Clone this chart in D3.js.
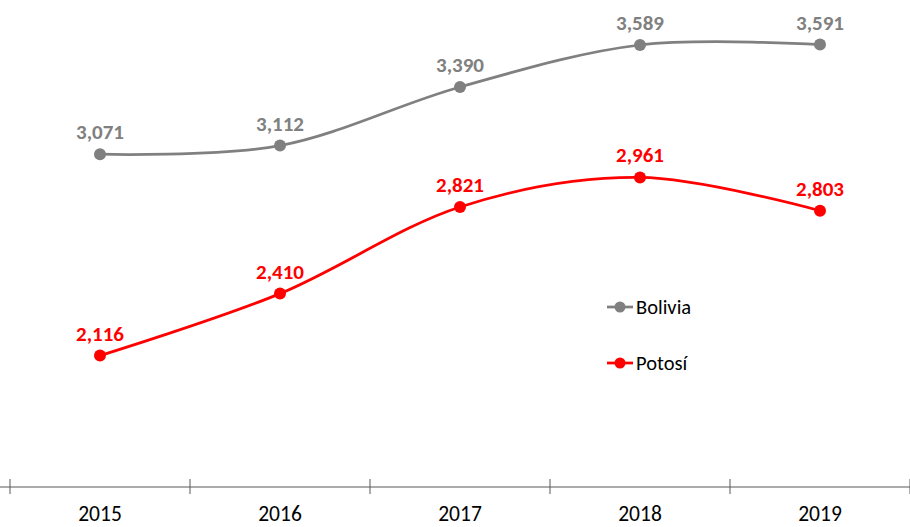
<!DOCTYPE html>
<html><head><meta charset="utf-8">
<script src="https://cdn.jsdelivr.net/npm/d3@7"></script>
<style>
html,body{margin:0;padding:0;background:#fff;}
svg{display:block;}
</style></head>
<body>
<svg id="chart" width="910" height="527"></svg>
<script>
const years = ["2015","2016","2017","2018","2019"];
const bolivia = [3071, 3112, 3390, 3589, 3591];
const potosi = [2116, 2410, 2821, 2961, 2803];
const seriesNames = ["Bolivia","Potosí"];
const seriesColors = ["#808080","#FF0000"];

const FONT = "Carlito, Calibri, Lato, sans-serif";
const svg = d3.select("#chart");
const x = d3.scaleBand().domain(years).range([10, 910]);
const y = d3.scaleLinear().domain([1500, 3800]).range([485.5, 0.5]);
const axisY = 487;

// axis
const g = svg.append("g");
g.append("line").attr("x1", 0).attr("x2", 910).attr("y1", axisY).attr("y2", axisY)
  .attr("stroke", "#595959").attr("stroke-width", 1);
const tickPos = years.map(d => x(d)).concat([x(years[years.length-1]) + x.bandwidth()]);
g.selectAll("line.tick").data(tickPos).enter().append("line")
  .attr("class","tick")
  .attr("x1", d => d).attr("x2", d => d)
  .attr("y1", axisY - 8).attr("y2", axisY + 7)
  .attr("stroke", "#595959").attr("stroke-width", 1);
g.selectAll("text.yl").data(years).enter().append("text")
  .attr("class","yl")
  .attr("x", d => x(d) + x.bandwidth()/2)
  .attr("y", 521)
  .attr("text-anchor","middle")
  .attr("font-family", FONT).attr("font-size", 21.5).attr("fill", "#000")
  .text(d => d);

const line = d3.line()
  .x((d,i) => x(years[i]) + x.bandwidth()/2)
  .y(d => y(d))
  .curve(d3.curveCardinal.tension(0));

const fmt = d3.format(",");
[bolivia, potosi].forEach((vals, si) => {
  const c = seriesColors[si];
  svg.append("path").datum(vals).attr("d", line)
    .attr("fill","none").attr("stroke", c).attr("stroke-width", 2.75);
  svg.selectAll(null).data(vals).enter().append("circle")
    .attr("cx", (d,i) => x(years[i]) + x.bandwidth()/2)
    .attr("cy", d => y(d)).attr("r", 6).attr("fill", c);
  svg.selectAll(null).data(vals).enter().append("text")
    .attr("x", (d,i) => x(years[i]) + x.bandwidth()/2)
    .attr("y", d => y(d) - 15)
    .attr("text-anchor","middle")
    .attr("font-family", FONT).attr("font-size", 21).attr("font-weight","bold")
    .attr("fill", c)
    .text(d => fmt(d));
});

// legend
const lg = svg.append("g");
const legY = [307, 363];
seriesNames.forEach((n, i) => {
  lg.append("line").attr("x1", 607).attr("x2", 633).attr("y1", legY[i]).attr("y2", legY[i])
    .attr("stroke", seriesColors[i]).attr("stroke-width", 2.75);
  lg.append("circle").attr("cx", 620).attr("cy", legY[i]).attr("r", 5.5).attr("fill", seriesColors[i]);
  lg.append("text").attr("x", 636).attr("y", legY[i] + 7)
    .attr("font-family", FONT).attr("font-size", 20.5).attr("fill", "#000").text(n);
});
</script>
</body></html>
